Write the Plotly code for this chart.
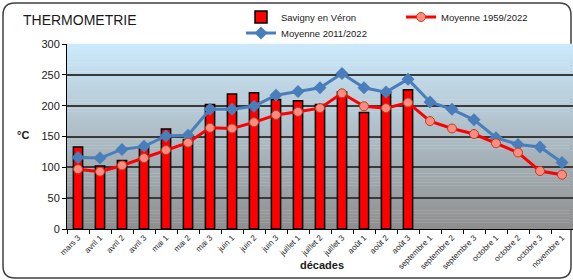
import plotly.graph_objects as go

decades = ["mars 3", "avril 1", "avril 2", "avril 3", "mai 1", "mai 2", "mai 3",
           "juin 1", "juin 2", "juin 3", "juillet 1", "juillet 2", "juillet 3",
           "août 1", "août 2", "août 3", "septembre 1", "septembre 2", "septembre 3",
           "octobre 1", "octobre 2", "octobre 3", "novembre 1"]

savigny = [133, 102, 111, 132, 162, 145, 202, 219, 221, 210, 208, 202, 222,
           189, 221, 226]

moy_1959_2022 = [97, 93, 103, 115, 128, 140, 164, 163, 173, 185, 190, 196, 220,
                 199, 196, 205, 175, 163, 154, 139, 124, 94, 88]

moy_2011_2022 = [116, 115, 129, 134, 151, 152, 194, 194, 199, 217, 223, 229, 252,
                 229, 222, 243, 206, 194, 177, 148, 137, 133, 108]

y_ticks = [0, 50, 100, 150, 200, 250, 300]

W, H = 573, 280
ML, MR, MT, MB = 67, 0, 44, 51
PW = W - ML - MR
PH = H - MT - MB

def px_x(p):
    return (p - ML) / PW

def px_y(p):
    return (H - MB - p) / PH

FONT = "Liberation Sans, Arial, sans-serif"

fig = go.Figure()

fig.add_trace(go.Bar(
    x=decades[:len(savigny)], y=savigny, name="Savigny en Véron",
    marker=dict(color="#FF0000", line=dict(color="#000000", width=1.5)),
    width=0.42, legend="legend", showlegend=True,
))
fig.add_trace(go.Scatter(
    x=decades, y=moy_2011_2022, name="Moyenne 2011/2022", mode="lines+markers",
    line=dict(color="#4A7EBB", width=3),
    marker=dict(symbol="diamond", size=10, color="#4A7EBB"),
    legend="legend3",
))
fig.add_trace(go.Scatter(
    x=decades, y=moy_1959_2022, name="Moyenne 1959/2022", mode="lines+markers",
    line=dict(color="#FF0000", width=3),
    marker=dict(symbol="circle", size=9, color="#FF8C80",
                line=dict(color="#B8401F", width=1)),
    legend="legend2",
))

shapes = []
# rounded chart border
x0, y0, x1, y1, r = 3, 3, 571, 278, 12
def P(x, y):
    return f"{px_x(x):.5f},{px_y(y):.5f}"
path = (f"M {P(x0 + r, y0)} L {P(x1 - r, y0)} Q {P(x1, y0)} {P(x1, y0 + r)} "
        f"L {P(x1, y1 - r)} Q {P(x1, y1)} {P(x1 - r, y1)} "
        f"L {P(x0 + r, y1)} Q {P(x0, y1)} {P(x0, y1 - r)} "
        f"L {P(x0, y0 + r)} Q {P(x0, y0)} {P(x0 + r, y0)} Z")
shapes.append(dict(type="path", xref="paper", yref="paper", path=path,
                   line=dict(color="#404040", width=1.5), layer="below"))

# gradient background of the plot area
top = (204, 234, 252)
bot = (142, 142, 142)
N = 60
for i in range(N):
    t = (i + 0.5) / N
    c = tuple(round(bot[k] + (top[k] - bot[k]) * t) for k in range(3))
    shapes.append(dict(type="rect", xref="paper", yref="paper",
                       x0=0, x1=1, y0=i / N, y1=(i + 1) / N + 0.002,
                       fillcolor=f"rgb{c}", line=dict(width=0), layer="below"))

leg_common = dict(xanchor="left", yanchor="middle", bgcolor="rgba(0,0,0,0)",
                  font=dict(size=9.5, family=FONT, color="#1a1a1a"), itemwidth=30)

fig.update_layout(
    width=W, height=H,
    margin=dict(l=ML, r=MR, t=MT, b=MB, pad=0, autoexpand=False),
    paper_bgcolor="white",
    plot_bgcolor="rgba(0,0,0,0)",
    font=dict(family=FONT, color="#1a1a1a"),
    shapes=shapes,
    showlegend=True,
    title=dict(text="THERMOMETRIE", x=23 / W, xanchor="left", xref="container",
               y=1 - 20 / H, yanchor="middle", yref="container",
               font=dict(size=14, family=FONT, color="#1a1a1a")),
    legend=dict(x=px_x(241), y=px_y(17), **leg_common),
    legend2=dict(x=px_x(401), y=px_y(17), **leg_common),
    legend3=dict(x=px_x(241), y=px_y(33), **leg_common),
    xaxis=dict(
        type="category", categoryorder="array", categoryarray=decades,
        range=[-0.5, len(decades) - 0.5], automargin=False,
        showline=True, linecolor="#000000", linewidth=1,
        ticks="outside", ticklen=4, tickcolor="#000000", tickson="boundaries",
        tickangle=-45, tickfont=dict(size=8, family=FONT, color="#1a1a1a"),
        showgrid=False,
    ),
    yaxis=dict(
        range=[0, 300], tickvals=y_ticks, automargin=False,
        showline=True, linecolor="#000000", linewidth=1,
        ticks="outside", ticklen=4, tickcolor="#000000",
        tickfont=dict(size=11, family=FONT, color="#1a1a1a"),
        showgrid=True, gridcolor="#3a3a3a", gridwidth=1.5,
        zeroline=False,
    ),
    annotations=[
        dict(text="<b>°C</b>", xref="paper", yref="paper", x=px_x(23), y=px_y(135),
             showarrow=False, xanchor="center", yanchor="middle",
             font=dict(size=11, family=FONT, color="#1a1a1a")),
        dict(text="<b>décades</b>", xref="paper", yref="paper", x=px_x(322), y=px_y(265),
             showarrow=False, xanchor="center", yanchor="middle",
             font=dict(size=11, family=FONT, color="#1a1a1a")),
    ],
)

fig.write_html("out.html", config={"displayModeBar": False},
               post_script="document.body.style.margin='0';document.body.style.overflow='hidden';")
